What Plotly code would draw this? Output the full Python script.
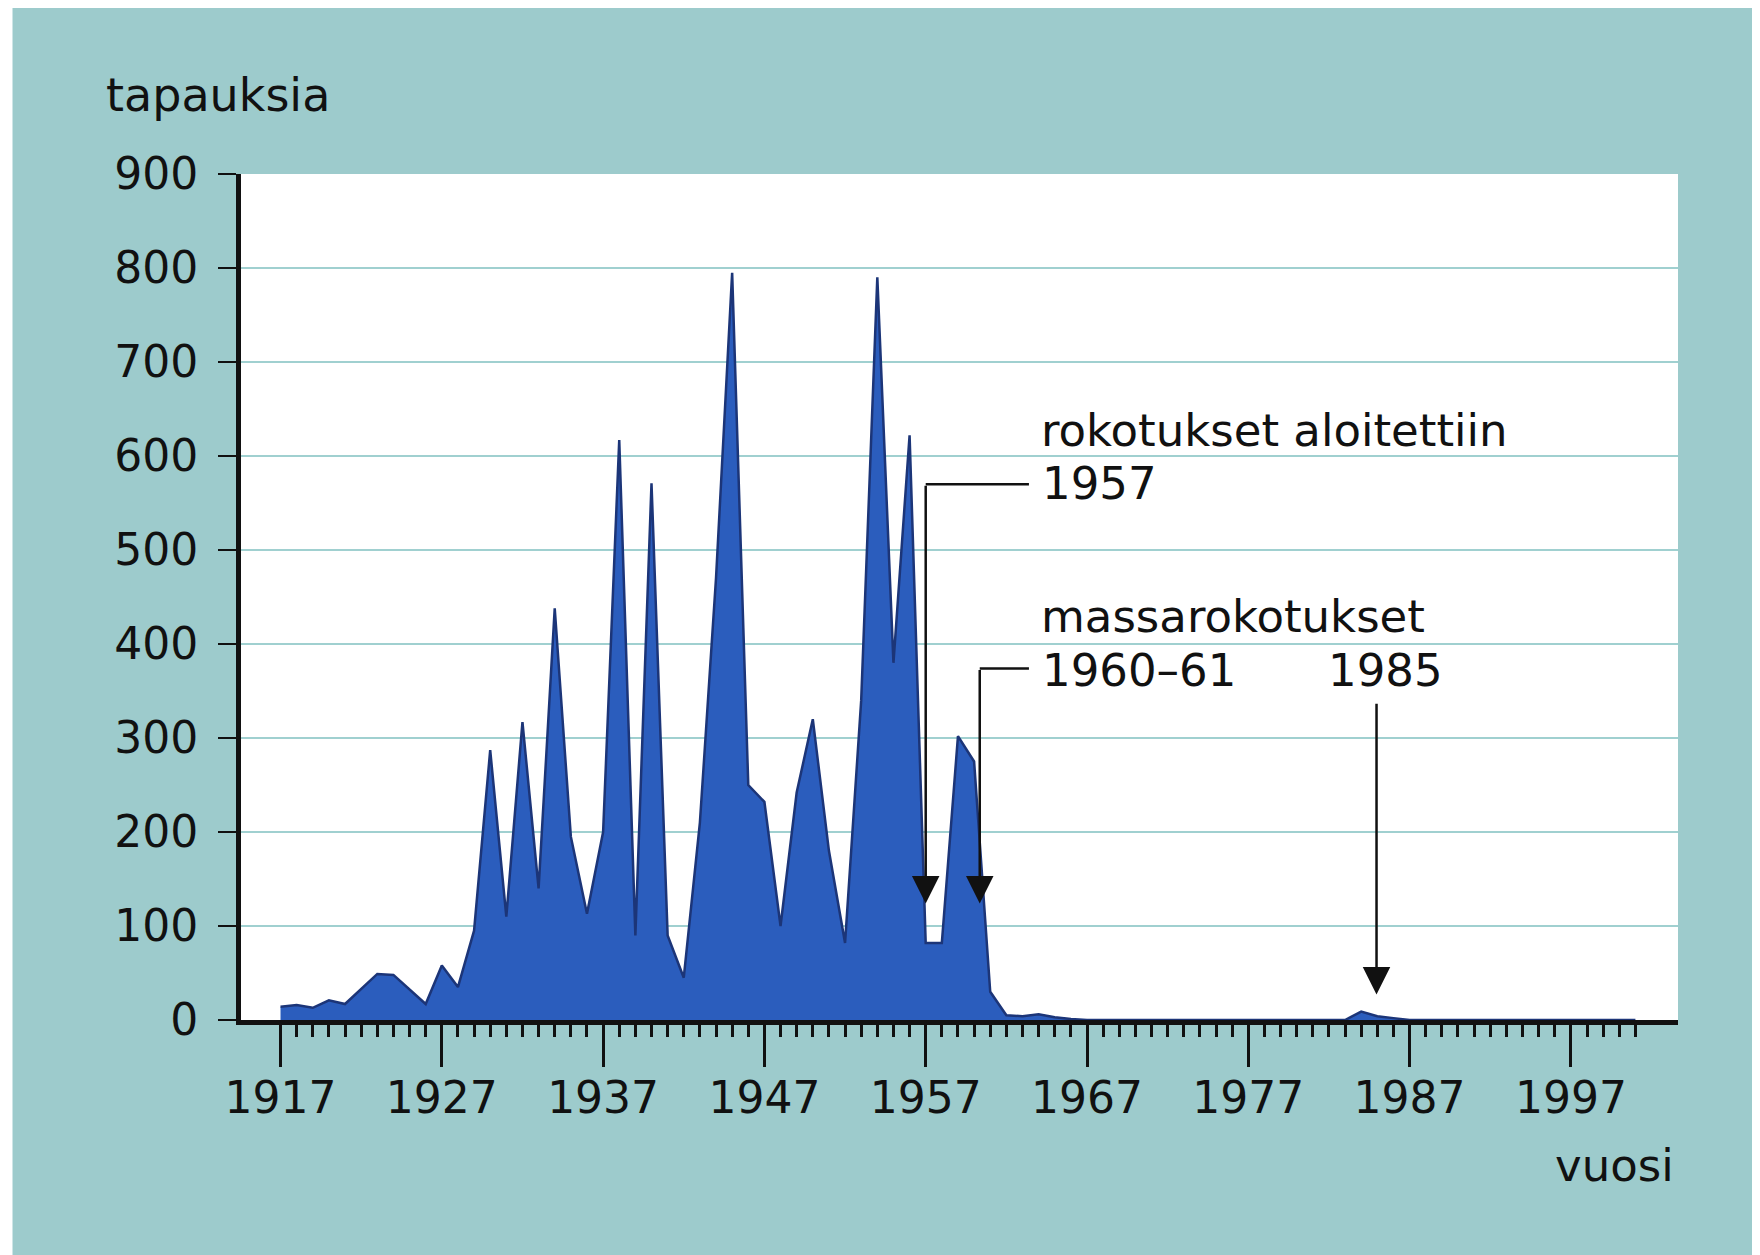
import plotly.graph_objects as go

# ---------------- data ----------------
years = list(range(1917, 2002))
cases = ([14, 16, 13, 21, 17, 33, 49, 48, 32, 17,          # 1917-1926
          58, 35, 95, 287, 110, 317, 140, 438, 195, 113,    # 1927-1936
          200, 617, 90, 571, 90, 45, 210, 470, 795, 250,    # 1937-1946
          232, 100, 242, 320, 180, 82, 340, 790, 380, 622,  # 1947-1956
          82, 82, 302, 275, 30, 5, 4, 6, 3, 1]              # 1957-1966
         + [0] * 17                                         # 1967-1983
         + [9, 4, 2]                                        # 1984-1986
         + [0] * 15)                                        # 1987-2001

major_years = list(range(1917, 2001, 10))
major_labels = [str(y) for y in major_years]
minor_years = [y for y in range(1917, 2002) if y not in major_years]
y_ticks = list(range(0, 901, 100))
y_labels = [str(v) for v in y_ticks]

# annotation texts
label_start = "rokotukset aloitettiin"
label_start_year = "1957"
label_mass = "massarokotukset"
label_mass_year = "1960–61"
label_1985 = "1985"

# arrows: (shaft x, top y, tip y, elbow end x or None)
arrows = [(1957.0, 570, 124, 1963.4),
          (1960.35, 374, 124, 1963.4),
          (1984.95, 338, 27, None)]

# ---------------- layout constants ----------------
OFF = 8                     # browser body margin
W, H = 1760 - OFF, 1255 - OFF
# plot-area edges, in page pixels
PL, PR, PT, PB = 241, 1678, 174, 1020
L, R, T, B = PL - OFF, PR - OFF, PT - OFF, PB - OFF
FONT = "DejaVu Sans"
INK = "#111111"


def px_x(page_px):
    return (page_px - PL) / (PR - PL)


def px_y(page_py):
    return (PB - page_py) / (PB - PT)


fig = go.Figure()
fig.add_trace(go.Scatter(
    x=years, y=cases, mode="lines", fill="tozeroy",
    fillcolor="#2b5dbd", line=dict(color="#1c3578", width=2.5),
    hoverinfo="skip"))

shapes = []
annotations = []
for sx, top, tip, elbow in arrows:
    if elbow is not None:
        shapes.append(dict(type="line", xref="x", yref="y", x0=sx, x1=elbow,
                           y0=top, y1=top, line=dict(color=INK, width=2.5),
                           layer="above"))
    annotations.append(dict(x=sx, y=tip, ax=sx, ay=top, xref="x", yref="y",
                            axref="x", ayref="y", text="", showarrow=True,
                            arrowhead=2, arrowsize=2.2, arrowwidth=2.5,
                            arrowcolor=INK))

text_font = dict(family=FONT, size=45, color=INK)
for txt, x, y in [(label_start, 1964.0, 627), (label_start_year, 1964.1, 571),
                  (label_mass, 1964.0, 429), (label_mass_year, 1964.1, 372),
                  (label_1985, 1981.8, 372)]:
    annotations.append(dict(x=x, y=y, xref="x", yref="y", text=txt,
                            showarrow=False, xanchor="left", yanchor="middle",
                            font=text_font))

annotations.append(dict(x=px_x(104), y=px_y(95), xref="paper", yref="paper",
                        text="tapauksia", showarrow=False, xanchor="left",
                        yanchor="middle",
                        font=dict(family=FONT, size=46, color=INK)))
annotations.append(dict(x=px_x(1676), y=px_y(1165), xref="paper", yref="paper",
                        text="vuosi", showarrow=False, xanchor="right",
                        yanchor="middle", font=text_font))

# extra white border strip at the left of the original scan
shapes.append(dict(type="rect", xref="paper", yref="paper",
                   x0=px_x(OFF), x1=px_x(12.5), y0=px_y(1255), y1=px_y(OFF),
                   fillcolor="white", line=dict(width=0), layer="above"))

fig.update_layout(
    width=W, height=H, autosize=False,
    margin=dict(l=L, r=W - R, t=T, b=H - B),
    paper_bgcolor="#9dcbcc", plot_bgcolor="white",
    showlegend=False,
    font=dict(family=FONT, size=44, color=INK),
    shapes=shapes, annotations=annotations,
    xaxis=dict(range=[1914.55, 2003.64], tickmode="array",
               tickvals=major_years, ticktext=major_labels,
               ticks="outside", ticklen=42, tickwidth=3, tickcolor=INK,
               showline=True, linewidth=5, linecolor=INK,
               showgrid=False, zeroline=False, ticklabelstandoff=-7,
               tickfont=dict(family=FONT, size=44, color=INK),
               minor=dict(tickmode="array", tickvals=minor_years,
                          ticks="outside", ticklen=12, tickwidth=3,
                          tickcolor=INK, showgrid=False)),
    yaxis=dict(range=[0, 900], tickmode="array", tickvals=y_ticks,
               ticktext=y_labels, ticks="outside", ticklen=18, tickwidth=2,
               tickcolor=INK, showline=True, linewidth=5, linecolor=INK,
               showgrid=True, gridcolor="#a0d0d0", gridwidth=2,
               zeroline=False, ticklabelstandoff=11,
               tickfont=dict(family=FONT, size=44, color=INK)),
)

fig.write_html("out.html")
